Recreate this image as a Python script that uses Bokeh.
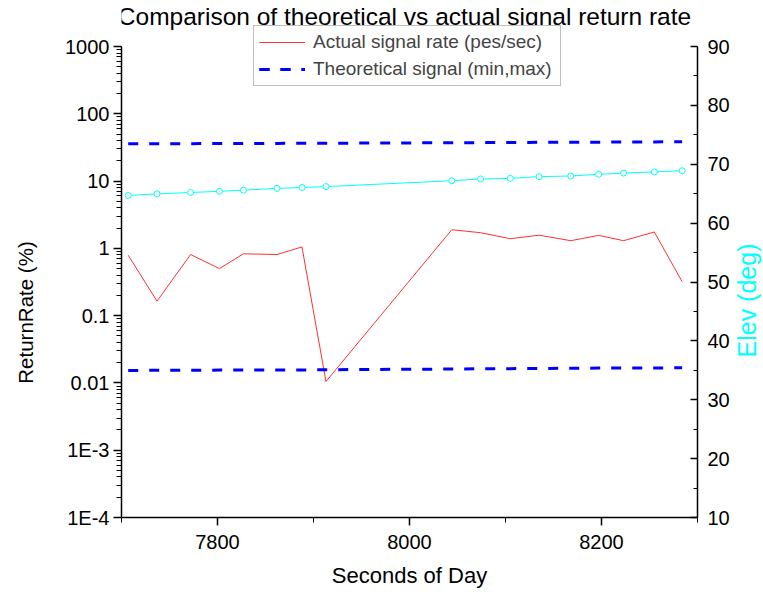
import math
from bokeh.plotting import figure
from bokeh.layouts import row
from bokeh.models import (Range1d, LinearAxis, FixedTicker, Legend, LegendItem,
                          LinearScale, Label)
from bokeh.embed import file_html
from bokeh.resources import INLINE

# ---------------- data ----------------
title_text = "Comparison of theoretical vs actual signal return rate"
x_title = "Seconds of Day"
y_title = "ReturnRate (%)"
y2_title = "Elev (deg)"
seconds_of_day = [7707, 7737, 7772, 7802, 7827, 7862, 7888, 7913, 8044,
                  8074, 8105, 8135, 8168, 8197, 8223, 8255, 8284]
actual_rate = [0.79, 0.164, 0.81, 0.50, 0.83, 0.81, 1.05, 0.0105, 1.89,
               1.71, 1.39, 1.57, 1.30, 1.56, 1.30, 1.75, 0.32]
theory_max = [35.8, 35.9, 36.0, 36.1, 36.2, 36.3, 36.4, 36.5, 37.1,
              37.3, 37.5, 37.6, 37.8, 37.9, 38.1, 38.2, 38.4]
theory_min = [0.0153, 0.0154, 0.0154, 0.0155, 0.0155, 0.0156, 0.0156, 0.0157, 0.0161,
              0.0162, 0.0163, 0.0164, 0.0165, 0.0166, 0.0167, 0.0167, 0.0168]
elevation = [64.7, 64.97, 65.2, 65.4, 65.6, 65.9, 66.05, 66.2, 67.2,
             67.5, 67.6, 67.9, 68.0, 68.3, 68.5, 68.7, 68.9]

x_major = [7800, 8000, 8200]
x_minor = [7700, 7900, 8100, 8300]
y_major = [1e-4, 1e-3, 1e-2, 1e-1, 1, 10, 100, 1000]
y_labels = ["1E-4", "1E-3", "0.01", "0.1", "1", "10", "100", "1000"]
y_minor = [k * d for d in [1e-4, 1e-3, 1e-2, 1e-1, 1, 10, 100] for k in range(2, 10)]
elev_major = [10, 20, 30, 40, 50, 60, 70, 80, 90]
elev_minor = [15, 25, 35, 45, 55, 65, 75, 85]

FONT = "Liberation Sans"

# ---------------- layout ----------------
PAGE_H = 592
LEFT_STRIP = 40
AXIS_PX = 471          # pixel height of the drawn axes (1E-4 .. 1000)
EXTRA_PX = 46          # room above the axes (title + legend live there)
FRAME_H = AXIS_PX + EXTRA_PX
BOTTOM_B = PAGE_H - FRAME_H
decade_px = AXIS_PX / 7.0
y_top = 1000 * 10 ** (EXTRA_PX / decade_px)
elev_top = 90 + EXTRA_PX * (80.0 / AXIS_PX)

p_main = figure(frame_width=576, frame_height=FRAME_H,
                x_range=Range1d(7700, 8300), y_range=Range1d(1e-4, y_top),
                y_axis_type="log", title=None,
                output_backend="svg", toolbar_location=None,
                min_border_left=121 - LEFT_STRIP, min_border_right=34,
                min_border_top=0, min_border_bottom=BOTTOM_B)
p_main.outline_line_color = None
p_main.xgrid.visible = False
p_main.ygrid.visible = False
p_main.background_fill_color = "white"

p_main.extra_y_ranges = {"elev": Range1d(10, elev_top)}
p_main.extra_y_scales = {"elev": LinearScale()}

# glyphs
r_red = p_main.line(seconds_of_day, actual_rate, line_color="#FF3030", line_width=1)
p_main.line(seconds_of_day, elevation, y_range_name="elev",
            line_color="#00FFFF", line_width=1)
p_main.scatter(seconds_of_day, elevation, y_range_name="elev", marker="circle",
               size=6, line_color="#00FFFF", fill_color="white", line_width=1)
r_max = p_main.line(seconds_of_day, theory_max, line_color="#0000FF",
                    line_width=3, line_dash="10 11")
r_min = p_main.line(seconds_of_day, theory_min, line_color="#0000FF",
                    line_width=3, line_dash="10 11")

# axes
xa = p_main.xaxis[0]
xa.ticker = FixedTicker(ticks=x_major, minor_ticks=x_minor)
xa.axis_label = x_title

ya = p_main.yaxis[0]
ya.ticker = FixedTicker(ticks=y_major, minor_ticks=y_minor)
ya.major_label_overrides = dict(zip(y_major, y_labels))
ya.bounds = (1e-4, 1000)

ra = LinearAxis(y_range_name="elev",
                ticker=FixedTicker(ticks=elev_major, minor_ticks=elev_minor))
ra.bounds = (10, 90)
p_main.add_layout(ra, "right")

for ax in (xa, ya, ra):
    ax.axis_line_color = "black"
    ax.axis_line_width = 1.5
    ax.major_tick_line_color = "black"
    ax.minor_tick_line_color = "black"
    ax.major_tick_line_width = 1.5
    ax.minor_tick_line_width = 1
    ax.major_label_text_font = FONT
    ax.major_label_text_font_size = "20px"
    ax.major_label_text_color = "black"
    ax.axis_label_text_font = FONT
    ax.axis_label_text_font_style = "normal"
    ax.axis_label_text_color = "black"

for ax in (xa, ya):
    ax.major_tick_out = 8
    ax.major_tick_in = 0
    ax.minor_tick_out = 5
    ax.minor_tick_in = 0
xa.major_label_standoff = 9
xa.axis_label_standoff = 11
xa.axis_label_text_font_size = "22px"
ya.major_label_standoff = 4

ra.major_tick_in = 7
ra.major_tick_out = 0
ra.minor_tick_in = 4
ra.minor_tick_out = 0
ra.major_label_standoff = 10

# title drawn inside the (extended) frame
p_main.add_layout(Label(x=283, y=FRAME_H - 16, x_units="screen", y_units="screen",
                        text=title_text, text_align="center", text_baseline="middle",
                        text_font=FONT, text_font_size="24.5px", text_color="black"))

legend = Legend(items=[
    LegendItem(label="Actual signal rate (pes/sec)", renderers=[r_red]),
    LegendItem(label="Theoretical signal (min,max)", renderers=[r_max, r_min]),
], location=(132, 431))
legend.border_line_color = "#808080"
legend.border_line_width = 1
legend.background_fill_color = "white"
legend.background_fill_alpha = 1
legend.label_text_font = FONT
legend.label_text_font_size = "19px"
legend.glyph_width = 46
legend.glyph_height = 20
legend.label_height = 20
legend.label_width = 242
legend.label_standoff = 8
legend.padding = 5
legend.spacing = 5
legend.margin = 0
p_main.add_layout(legend, "center")


def strip(width):
    # same frame height / bottom border as the main plot, so frames line up
    s = figure(frame_width=width, frame_height=FRAME_H,
               x_range=Range1d(0, 1), y_range=Range1d(0, 1),
               x_axis_type=None, y_axis_type=None, title=None,
               output_backend="svg", toolbar_location=None,
               min_border_left=0, min_border_right=0,
               min_border_top=0, min_border_bottom=BOTTOM_B)
    s.outline_line_color = None
    s.background_fill_color = "white"
    s.border_fill_color = "white"
    return s


# left strip: y-axis title (reads bottom to top)
p_left = strip(LEFT_STRIP)
p_left.add_layout(Label(x=25, y=FRAME_H - 312, x_units="screen", y_units="screen",
                        text=y_title, angle=math.pi / 2, text_align="center",
                        text_baseline="middle", text_font=FONT,
                        text_font_size="20.5px", text_color="black"))

# right strip: secondary axis title in cyan
RIGHT_START = 121 + 576 + 34
p_right = strip(763 - RIGHT_START)
p_right.add_layout(Label(x=745 - RIGHT_START, y=FRAME_H - 300, x_units="screen",
                         y_units="screen", text=y2_title, angle=math.pi / 2,
                         text_align="center", text_baseline="middle", text_font=FONT,
                         text_font_size="25px", text_color="#00FFFF"))

p = row(p_left, p_main, p_right)

open("out.html", "w").write(file_html(p, INLINE))
